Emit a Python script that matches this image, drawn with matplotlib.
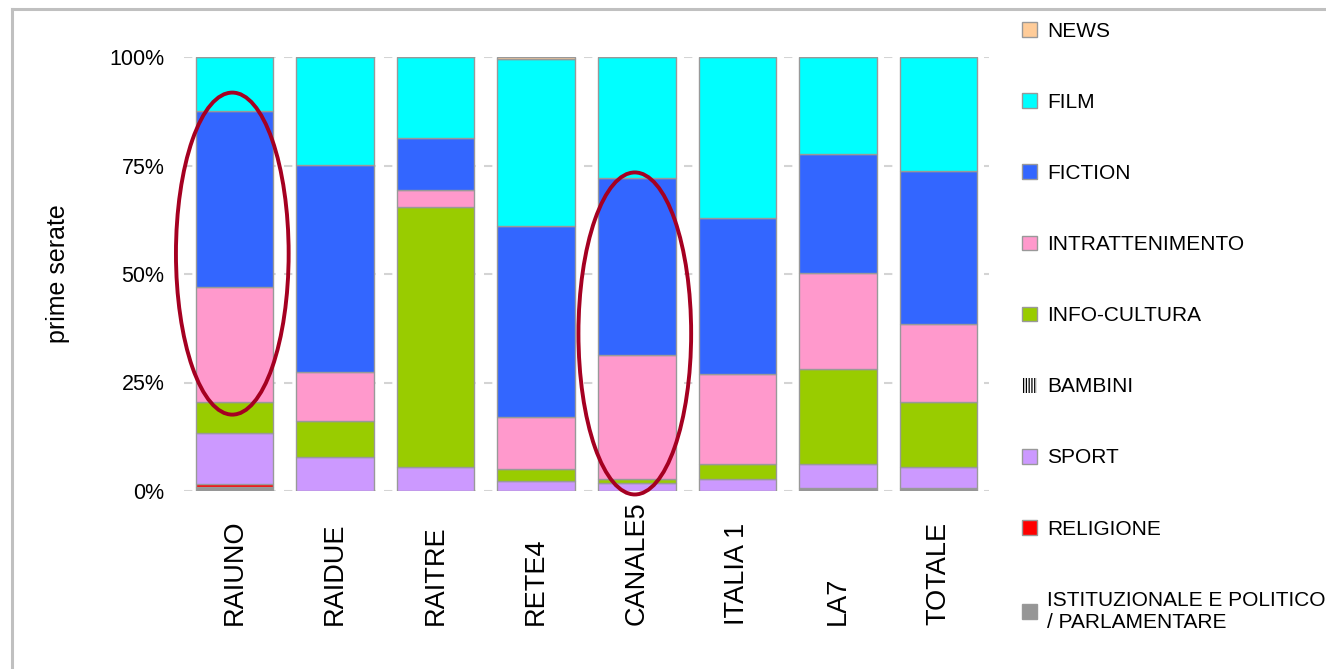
import matplotlib.pyplot as plt
from matplotlib.patches import Ellipse
from matplotlib.lines import Line2D
import numpy as np

plt.rcParams['font.family'] = ['Liberation Sans', 'DejaVu Sans']
plt.rcParams['hatch.color'] = 'black'
plt.rcParams['hatch.linewidth'] = 0.9

# --- dati (% prime serate per rete) ---
reti = ['RAIUNO', 'RAIDUE', 'RAITRE', 'RETE4', 'CANALE5', 'ITALIA 1', 'LA7', 'TOTALE']

istituzionale = [1.0, 0, 0, 0, 0, 0, 0.6, 0.6]
religione = [0.6, 0, 0, 0, 0, 0, 0, 0.1]
sport = [11.8, 7.8, 5.5, 2.2, 1.8, 2.8, 5.6, 4.8]
bambini = [0, 0, 0, 0, 0, 0, 0, 0]
info_cultura = [7.0, 8.3, 59.9, 2.8, 1.0, 3.4, 21.8, 14.9]
intrattenimento = [26.6, 11.4, 4.0, 12.0, 28.5, 20.8, 22.2, 18.1]
fiction = [40.6, 47.6, 11.9, 44.1, 40.8, 35.9, 27.4, 35.2]
film = [12.4, 24.9, 18.7, 38.4, 27.9, 37.1, 22.4, 26.3]
news = [0, 0, 0, 0.5, 0, 0, 0, 0]

# reti evidenziate con l'ellisse
evidenziate = ['RAIUNO', 'CANALE5']

# serie dal basso verso l'alto: nome, valori, colore, tratteggio
serie = [
    ('ISTITUZIONALE E POLITICO\n/ PARLAMENTARE', istituzionale, '#969696', None),
    ('RELIGIONE', religione, '#FF0000', None),
    ('SPORT', sport, '#CC99FF', None),
    ('BAMBINI', bambini, 'white', '||||||'),
    ('INFO-CULTURA', info_cultura, '#99CC00', None),
    ('INTRATTENIMENTO', intrattenimento, '#FF99CC', None),
    ('FICTION', fiction, '#3366FF', None),
    ('FILM', film, '#00FFFF', None),
    ('NEWS', news, '#FFCC99', None),
]

fig = plt.figure(figsize=(13.26, 6.69), dpi=100)
ax = fig.add_axes([184 / 1326, 1 - 491 / 669, 805 / 1326, 434 / 669])

x = np.arange(len(reti))
bottom = np.zeros(len(reti))
handles = []
for nome, valori, colore, tratteggio in serie:
    valori = np.array(valori, dtype=float)
    if tratteggio:
        # bambini: solo tratteggio nero, senza bordo
        b = ax.bar(x, valori, bottom=bottom, width=0.77, color=colore, edgecolor='black',
                   linewidth=0, hatch=tratteggio, label=nome, zorder=2)
    else:
        b = ax.bar(x, valori, bottom=bottom, width=0.77, color=colore, edgecolor='#999999',
                   linewidth=1, label=nome, zorder=2)
    handles.append(b)
    bottom += valori

ax.set_xlim(-0.5, len(reti) - 0.5)
ax.set_ylim(0, 100)
ax.set_yticks([0, 25, 50, 75, 100])
ax.set_yticklabels(['0%', '25%', '50%', '75%', '100%'], fontsize=15.5)
ax.tick_params(axis='y', length=0, pad=14)
ax.set_xticks([])
for s in ax.spines.values():
    s.set_visible(False)
ax.grid(axis='y', color='#d4d4d4', linestyle=(0, (4, 4)), linewidth=1.5, zorder=0)
ax.set_axisbelow(True)

ax.set_ylabel('prime serate', fontsize=18)
ax.yaxis.set_label_coords(-0.142, 0.5)

# etichette delle reti, ruotate e allineate in basso
for i, r in enumerate(reti):
    ax.text(i, -0.309, r, transform=ax.get_xaxis_transform(), rotation=90,
            ha='center', va='bottom', fontsize=19.5)

# ellissi di evidenziazione
centri_y = {'RAIUNO': 54.7, 'CANALE5': 36.3}
for r in evidenziate:
    e = Ellipse((reti.index(r) - 0.02, centri_y[r]), width=1.12, height=74.2, fill=False,
                edgecolor='#A50021', linewidth=2.8, zorder=5, clip_on=False)
    ax.add_patch(e)

# legenda a destra (ordine inverso)
fig.legend(handles=handles[::-1], loc='upper left', bbox_to_anchor=(1022 / 1326, 1 - 22 / 669),
           frameon=False, fontsize=15, handlelength=0.72, handleheight=0.72,
           handletextpad=0.5, labelspacing=2.5, borderpad=0, borderaxespad=0)

# bordo grigio della figura
fig.add_artist(Line2D([12 / 1326, 1], [1 - 9 / 669, 1 - 9 / 669], color='#c0c0c0', linewidth=2.2))
fig.add_artist(Line2D([12 / 1326, 12 / 1326], [0, 1 - 9 / 669], color='#c0c0c0', linewidth=2.2))

fig.savefig('out.png', dpi=100)
